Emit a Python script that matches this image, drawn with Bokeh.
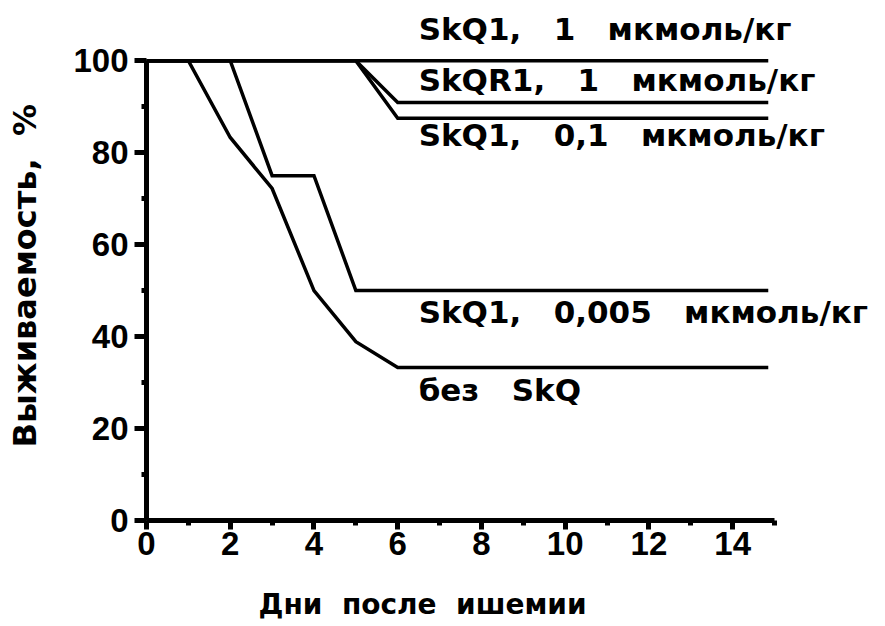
import math
from bokeh.plotting import figure
from bokeh.models import Range1d, FixedTicker, Label, LinearAxis, Title
from bokeh.embed import file_html
from bokeh.resources import INLINE

# Survival curves (% of animals alive) by day after ischemia
days_skq1_1 = [0, 14.85]
surv_skq1_1 = [100, 100]

days_skqr1_1 = [0, 5, 6, 14.85]
surv_skqr1_1 = [100, 100, 90.9, 90.9]

days_skq1_01 = [0, 5, 6, 14.85]
surv_skq1_01 = [100, 100, 87.5, 87.5]

days_skq1_0005 = [0, 2, 3, 4, 5, 14.85]
surv_skq1_0005 = [100, 100, 75, 75, 50, 50]

days_control = [0, 1, 2, 3, 4, 5, 6, 14.85]
surv_control = [100, 100, 83.3, 72.2, 50, 38.9, 33.3, 33.3]

x_major = [0, 2, 4, 6, 8, 10, 12, 14]
x_minor = [1, 3, 5, 7, 9, 11, 13, 15]
y_major = [0, 20, 40, 60, 80, 100]
y_minor = [10, 30, 50, 70, 90]

GAP = "\u00a0\u00a0\u00a0"
series_labels = [
    f"SkQ1,{GAP}1{GAP}мкмоль/кг",
    f"SkQR1,{GAP}1{GAP}мкмоль/кг",
    f"SkQ1,{GAP}0,1{GAP}мкмоль/кг",
    f"SkQ1,{GAP}0,005{GAP}мкмоль/кг",
    f"без{GAP}SkQ",
]
x_title = "Дни\u00a0\u00a0после\u00a0\u00a0ишемии"
y_title = "Выживаемость,\u00a0\u00a0%"

TICK_FONT = "Liberation Sans"
TEXT_FONT = "DejaVu Sans"

# The frame reaches past the axes so the curve captions fit inside it;
# the axes themselves are bounded to the data extent.
p = figure(
    width=885, height=626,
    x_range=Range1d(0, 17.65), y_range=Range1d(0, 112),
    output_backend="svg", toolbar_location=None,
    min_border_left=146, min_border_right=0,
    min_border_top=5, min_border_bottom=106,
)
p.outline_line_color = None
p.grid.visible = False
p.background_fill_color = "white"
p.border_fill_color = "white"

p.xaxis.ticker = FixedTicker(ticks=x_major, minor_ticks=x_minor)
p.yaxis.ticker = FixedTicker(ticks=y_major, minor_ticks=y_minor)
p.xaxis.bounds = (0, 15)
p.yaxis.bounds = (0, 100)

for ax in (p.xaxis[0], p.yaxis[0]):
    ax.axis_line_width = 5
    ax.axis_line_color = "black"
    ax.major_tick_line_width = 5
    ax.minor_tick_line_width = 5
    ax.major_tick_in = 0
    ax.minor_tick_in = 0
    ax.major_label_text_font = TICK_FONT
    ax.major_label_text_font_style = "bold"
    ax.major_label_text_font_size = "33px"
    ax.major_label_text_color = "black"

p.xaxis.major_tick_out = 9
p.xaxis.minor_tick_out = 5
p.xaxis.major_label_standoff = 2
p.yaxis.major_tick_out = 12
p.yaxis.minor_tick_out = 5
p.yaxis.major_label_standoff = 6

# Invisible axes that only hold a fixed gap between tick axes and titles
def gap_axis(tick, size):
    return LinearAxis(
        ticker=FixedTicker(ticks=[tick], minor_ticks=[]),
        axis_line_color=None, major_tick_line_color=None,
        minor_tick_line_color=None, major_tick_out=size, minor_tick_out=0,
        major_tick_in=0, minor_tick_in=0,
        major_label_overrides={tick: ""}, major_label_text_color=None,
        major_label_standoff=0,
    )

p.add_layout(gap_axis(16, 28), "below")
p.add_layout(gap_axis(105, 27), "left")

# Axis titles, placed along their sides with an offset from the frame corner
p.add_layout(Title(
    text=x_title, align="left", offset=112, standoff=0,
    text_font=TEXT_FONT, text_font_style="bold", text_font_size="28px",
    text_color="black",
), "below")
p.add_layout(Title(
    text=y_title, align="left", offset=73, standoff=0,
    text_font=TEXT_FONT, text_font_style="bold", text_font_size="32px",
    text_color="black",
), "left")

curves = [
    (days_skq1_1, surv_skq1_1),
    (days_skqr1_1, surv_skqr1_1),
    (days_skq1_01, surv_skq1_01),
    (days_skq1_0005, surv_skq1_0005),
    (days_control, surv_control),
]
for xs, ys in curves:
    p.line(xs, ys, line_color="black", line_width=3.5, line_join="miter")

# Curve captions to the right of the plateaus
label_pos = [(6.5, 106.9), (6.5, 95.8), (6.5, 83.8), (6.5, 45.3), (6.5, 28.4)]
for text, (lx, ly) in zip(series_labels, label_pos):
    p.add_layout(Label(
        x=lx, y=ly, text=text,
        text_font=TEXT_FONT, text_font_style="bold", text_font_size="31px",
        text_color="black", text_align="left", text_baseline="alphabetic",
    ))

open("out.html", "w").write(file_html(p, INLINE))
